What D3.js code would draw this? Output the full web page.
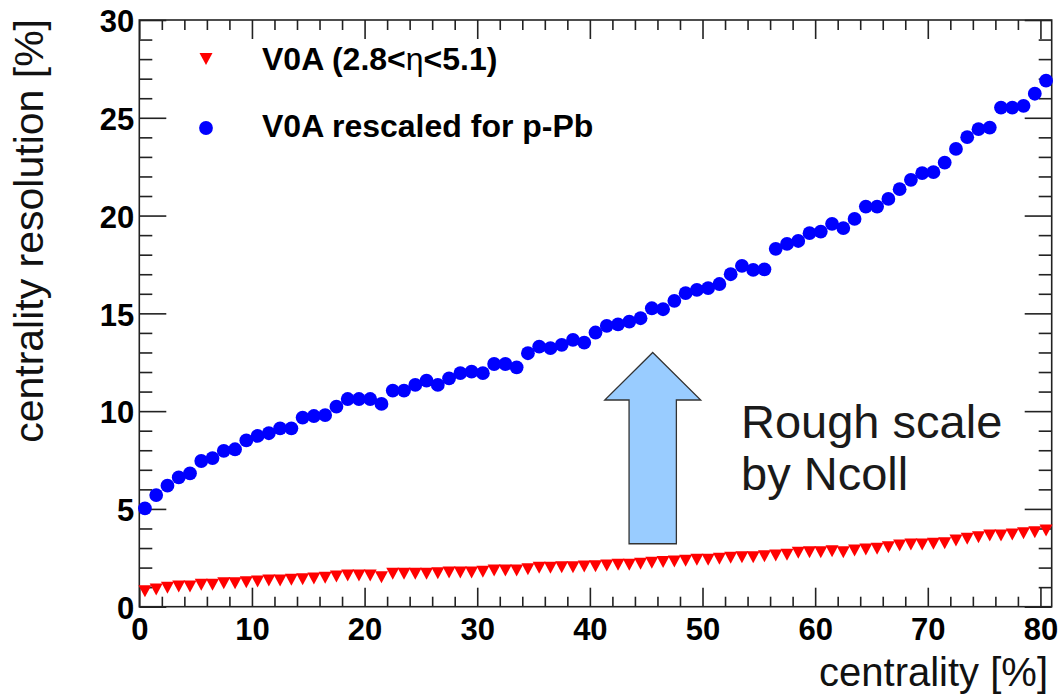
<!DOCTYPE html>
<html>
<head>
<meta charset="utf-8">
<script src="https://cdn.jsdelivr.net/npm/d3@7"></script>
<style>
  html, body { margin: 0; padding: 0; background: #ffffff; }
  svg { display: block; }
</style>
</head>
<body>
<svg id="chart" width="1060" height="700"></svg>
<script>
// ---------------- data ----------------
const centrality = [
  0.5, 1.5, 2.5, 3.5, 4.5, 5.5, 6.5, 7.5, 8.5, 9.5,
  10.5, 11.5, 12.5, 13.5, 14.5, 15.5, 16.5, 17.5, 18.5, 19.5,
  20.5, 21.5, 22.5, 23.5, 24.5, 25.5, 26.5, 27.5, 28.5, 29.5,
  30.5, 31.5, 32.5, 33.5, 34.5, 35.5, 36.5, 37.5, 38.5, 39.5,
  40.5, 41.5, 42.5, 43.5, 44.5, 45.5, 46.5, 47.5, 48.5, 49.5,
  50.5, 51.5, 52.5, 53.5, 54.5, 55.5, 56.5, 57.5, 58.5, 59.5,
  60.5, 61.5, 62.5, 63.5, 64.5, 65.5, 66.5, 67.5, 68.5, 69.5,
  70.5, 71.5, 72.5, 73.5, 74.5, 75.5, 76.5, 77.5, 78.5, 79.5,
  80.5
];
const v0aResolution = [
  0.79, 0.88, 0.97, 1.03, 1.03, 1.12, 1.12, 1.20, 1.20, 1.25,
  1.29, 1.34, 1.34, 1.38, 1.41, 1.44, 1.48, 1.54, 1.60, 1.60,
  1.60, 1.51, 1.68, 1.68, 1.68, 1.68, 1.71, 1.75, 1.75, 1.75,
  1.79, 1.85, 1.85, 1.85, 1.92, 1.99, 1.99, 2.02, 2.02, 2.05,
  2.07, 2.11, 2.14, 2.14, 2.19, 2.25, 2.28, 2.31, 2.35, 2.40,
  2.40, 2.45, 2.50, 2.53, 2.53, 2.58, 2.62, 2.65, 2.76, 2.78,
  2.79, 2.84, 2.79, 2.87, 2.93, 2.96, 3.04, 3.13, 3.18, 3.18,
  3.22, 3.25, 3.39, 3.47, 3.55, 3.64, 3.64, 3.69, 3.76, 3.81,
  3.90
];
const v0aRescaled = [
  5.03, 5.71, 6.19, 6.61, 6.82, 7.45, 7.60, 7.97, 8.05, 8.50,
  8.73, 8.87, 9.12, 9.12, 9.67, 9.75, 9.80, 10.23, 10.62, 10.62,
  10.62, 10.37, 11.05, 11.05, 11.34, 11.56, 11.34, 11.68, 11.94, 12.02,
  11.94, 12.41, 12.41, 12.24, 12.96, 13.30, 13.22, 13.39, 13.64, 13.50,
  14.02, 14.36, 14.44, 14.58, 14.75, 15.26, 15.21, 15.64, 16.03, 16.20,
  16.29, 16.50, 17.00, 17.43, 17.22, 17.25, 18.30, 18.55, 18.70, 19.10,
  19.18, 19.58, 19.36, 19.83, 20.46, 20.46, 20.85, 21.35, 21.83, 22.17,
  22.22, 22.71, 23.41, 24.01, 24.42, 24.50, 25.52, 25.52, 25.61, 26.23,
  26.90
];
const xTickLabels = [0, 10, 20, 30, 40, 50, 60, 70, 80];
const xMinorTicks = [2, 4, 6, 8, 12, 14, 16, 18, 22, 24, 26, 28, 32, 34, 36, 38,
  42, 44, 46, 48, 52, 54, 56, 58, 62, 64, 66, 68, 72, 74, 76, 78];
const yTickLabels = [0, 5, 10, 15, 20, 25, 30];
const yMinorTicks = [1, 2, 3, 4, 6, 7, 8, 9, 11, 12, 13, 14, 16, 17, 18, 19,
  21, 22, 23, 24, 26, 27, 28, 29];
const seriesNames = ["V0A (2.8<", "η", "<5.1)"];
const seriesName2 = "V0A rescaled for p-Pb";
const annotationLines = ["Rough scale", "by Ncoll"];
// arrow annotation in data units: [tipX, tipY, headBaseY, shaftBottomY, headHalfWidth, shaftHalfWidth]
const arrowSpec = [45.58, 13.0, 10.57, 3.22, 4.26, 2.1];

// ---------------- layout ----------------
const svg = d3.select("#chart");
const pLeft = 139.3, pRight = 1051.7, pTop = 20, pBottom = 606.7;
const x = d3.scaleLinear().domain([0, 81]).range([pLeft, pRight]);
const y = d3.scaleLinear().domain([0, 30]).range([pBottom, pTop]);
const axisColor = "#222";
const tickFont = "'Liberation Sans', Arial, Helvetica, sans-serif";

function styleAxis(g) {
  g.select(".domain").remove();
  g.selectAll(".tick line").attr("stroke", axisColor).attr("stroke-width", 1.6);
}

// bottom major + labels
svg.append("g").attr("transform", `translate(0,${pBottom})`)
  .call(d3.axisBottom(x).tickValues(xTickLabels).tickSize(-19).tickSizeOuter(0).tickPadding(11).tickFormat(d3.format("d")))
  .call(styleAxis)
  .call(g => g.selectAll("text").attr("font-family", tickFont).attr("font-weight", "bold")
    .attr("font-size", 31).attr("fill", "#000"));
svg.append("g").attr("transform", `translate(0,${pBottom})`)
  .call(d3.axisBottom(x).tickValues(xMinorTicks).tickSize(-10).tickSizeOuter(0).tickFormat(""))
  .call(styleAxis);
// top
svg.append("g").attr("transform", `translate(0,${pTop})`)
  .call(d3.axisTop(x).tickValues(xTickLabels).tickSize(-19).tickSizeOuter(0).tickFormat(""))
  .call(styleAxis);
svg.append("g").attr("transform", `translate(0,${pTop})`)
  .call(d3.axisTop(x).tickValues(xMinorTicks).tickSize(-10).tickSizeOuter(0).tickFormat(""))
  .call(styleAxis);
// left
svg.append("g").attr("transform", `translate(${pLeft},0)`)
  .call(d3.axisLeft(y).tickValues(yTickLabels).tickSize(-27).tickSizeOuter(0).tickPadding(5).tickFormat(d3.format("d")))
  .call(styleAxis)
  .call(g => g.selectAll("text").attr("font-family", tickFont).attr("font-weight", "bold")
    .attr("font-size", 31).attr("fill", "#000").attr("dy", "0.38em"));
svg.append("g").attr("transform", `translate(${pLeft},0)`)
  .call(d3.axisLeft(y).tickValues(yMinorTicks).tickSize(-13).tickSizeOuter(0).tickFormat(""))
  .call(styleAxis);
// right
svg.append("g").attr("transform", `translate(${pRight},0)`)
  .call(d3.axisRight(y).tickValues(yTickLabels).tickSize(-27).tickSizeOuter(0).tickFormat(""))
  .call(styleAxis);
svg.append("g").attr("transform", `translate(${pRight},0)`)
  .call(d3.axisRight(y).tickValues(yMinorTicks).tickSize(-13).tickSizeOuter(0).tickFormat(""))
  .call(styleAxis);

// frame
svg.append("rect")
  .attr("x", x(0)).attr("y", y(30))
  .attr("width", x(81) - x(0)).attr("height", y(0) - y(30))
  .attr("fill", "none").attr("stroke", axisColor).attr("stroke-width", 1.6);

// axis titles
svg.append("text")
  .attr("x", 1048).attr("y", 686)
  .attr("text-anchor", "end")
  .attr("font-family", tickFont).attr("font-size", 40).attr("fill", "#111")
  .text("centrality [%]");
svg.append("text")
  .attr("transform", "translate(43,19) rotate(-90)")
  .attr("text-anchor", "end")
  .attr("font-family", tickFont).attr("font-size", 41).attr("fill", "#111")
  .text("centrality resolution [%]");

// markers
const triPath = "M-6.5,-6L6.5,-6L0,6Z";
const redData = centrality.map((c, i) => ({ c, v: v0aResolution[i] }));
const blueData = centrality.map((c, i) => ({ c, v: v0aRescaled[i] }));

svg.append("g").selectAll("path").data(redData).join("path")
  .attr("d", triPath)
  .attr("transform", d => `translate(${x(d.c)},${y(d.v)})`)
  .attr("fill", "#ff0000");

svg.append("g").selectAll("circle").data(blueData).join("circle")
  .attr("cx", d => x(d.c)).attr("cy", d => y(d.v))
  .attr("r", 6.9)
  .attr("fill", "#0000ff");

// legend
const legend = svg.append("g");
legend.append("path").attr("d", triPath).attr("transform", "translate(206,59)").attr("fill", "#ff0000");
legend.append("circle").attr("cx", 206).attr("cy", 128).attr("r", 6.9).attr("fill", "#0000ff");
const l1 = legend.append("text").attr("x", 262).attr("y", 70)
  .attr("font-family", tickFont).attr("font-weight", "bold").attr("font-size", 32).attr("fill", "#000");
l1.append("tspan").text(seriesNames[0]);
l1.append("tspan").attr("font-weight", "normal").text(seriesNames[1]);
l1.append("tspan").text(seriesNames[2]);
legend.append("text").attr("x", 262).attr("y", 137)
  .attr("font-family", tickFont).attr("font-weight", "bold").attr("font-size", 32).attr("fill", "#000")
  .text(seriesName2);

// arrow annotation
const [ax, ayTip, ayBase, ayBottom, hw, sw] = arrowSpec;
const arrowPts = [
  [x(ax), y(ayTip)],
  [x(ax + hw), y(ayBase)],
  [x(ax + sw), y(ayBase)],
  [x(ax + sw), y(ayBottom)],
  [x(ax - sw), y(ayBottom)],
  [x(ax - sw), y(ayBase)],
  [x(ax - hw), y(ayBase)]
];
svg.append("path")
  .attr("d", d3.line()(arrowPts) + "Z")
  .attr("fill", "#99ccff").attr("stroke", "#333").attr("stroke-width", 1.3)
  .attr("stroke-linejoin", "miter");

// annotation text
const ann = svg.append("text").attr("font-family", tickFont).attr("font-size", 47).attr("fill", "#1a1a1a");
ann.append("tspan").attr("x", 741).attr("y", 438).text(annotationLines[0]);
ann.append("tspan").attr("x", 741).attr("y", 490).text(annotationLines[1]);
</script>
</body>
</html>
